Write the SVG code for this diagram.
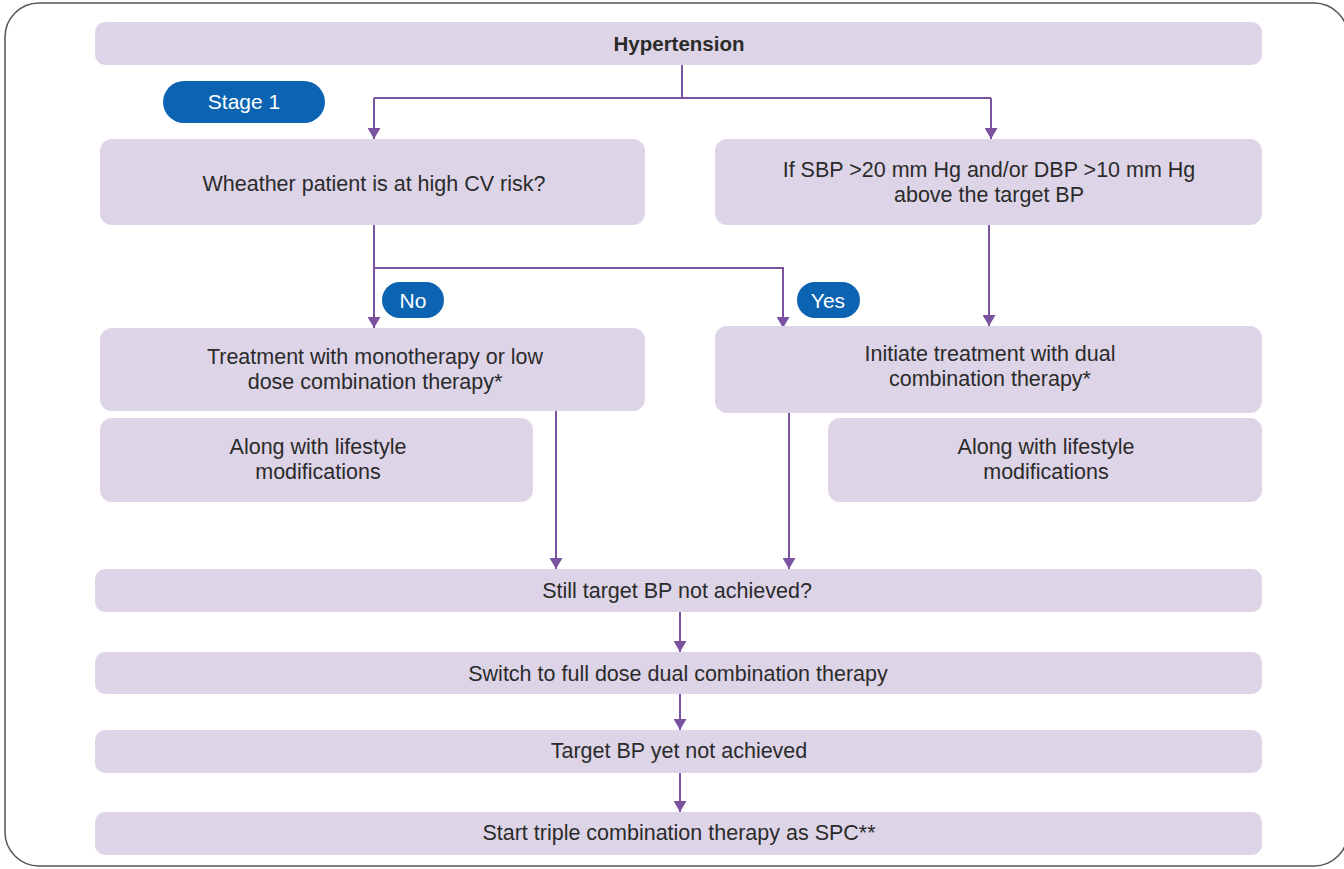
<svg xmlns="http://www.w3.org/2000/svg" width="1344" height="869" viewBox="0 0 1344 869">
<style>
.box{fill:#ddd5e7}
.pill{fill:#0b63b1}
.t{font-family:"Liberation Sans",Arial,sans-serif;font-size:21.5px;fill:#2b2b2b;text-anchor:middle}
.pt{font-family:"Liberation Sans",Arial,sans-serif;font-size:21px;fill:#fff;text-anchor:middle}
.c{fill:none;stroke:#7a52a0;stroke-width:2}
</style>
<defs>
<marker id="ah" viewBox="0 0 11 13" refX="11" refY="6.5" markerWidth="11" markerHeight="13" markerUnits="userSpaceOnUse" orient="auto">
<path d="M0,0 L11,6.5 L0,13 Z" fill="#7a52a0"/>
</marker>
</defs>
<rect width="1344" height="869" fill="#fff"/>
<rect x="5" y="3" width="1343" height="863" rx="34" fill="none" stroke="#555" stroke-width="1.5"/>

<g id="connectors">
<path class="c" d="M682,65 V98"/>
<path class="c" d="M374,98 H991"/>
<path class="c" d="M374,98 V139" marker-end="url(#ah)"/>
<path class="c" d="M991,98 V139" marker-end="url(#ah)"/>
<path class="c" d="M374,225 V328" marker-end="url(#ah)"/>
<path class="c" d="M374,268 H783 V328" marker-end="url(#ah)"/>
<path class="c" d="M989,225 V326" marker-end="url(#ah)"/>
<path class="c" d="M556,411 V569" marker-end="url(#ah)"/>
<path class="c" d="M789,413 V569" marker-end="url(#ah)"/>
<path class="c" d="M680,612 V652" marker-end="url(#ah)"/>
<path class="c" d="M680,694 V730" marker-end="url(#ah)"/>
<path class="c" d="M680,773 V812" marker-end="url(#ah)"/>
</g>

<g id="hypertension">
<rect class="box" x="95" y="22" width="1167" height="43" rx="10"/>
<text class="t" x="679" y="51" font-weight="bold" style="font-size:20.5px">Hypertension</text>
</g>
<g id="stage1">
<rect class="pill" x="163" y="81" width="162" height="42" rx="21"/>
<text class="pt" x="244" y="109">Stage 1</text>
</g>
<g id="highcv">
<rect class="box" x="100" y="139" width="545" height="86" rx="12"/>
<text class="t" x="374" y="191">Wheather patient is at high CV risk?</text>
</g>
<g id="sbp">
<rect class="box" x="715" y="139" width="547" height="86" rx="12"/>
<text class="t" x="989" y="177">If SBP &gt;20 mm Hg and/or DBP &gt;10 mm Hg</text>
<text class="t" x="989" y="202">above the target BP</text>
</g>
<g id="no">
<rect class="pill" x="382" y="282" width="62" height="36" rx="18"/>
<text class="pt" x="413" y="308">No</text>
</g>
<g id="yes">
<rect class="pill" x="797" y="282" width="63" height="36" rx="18"/>
<text class="pt" x="828" y="308">Yes</text>
</g>
<g id="mono">
<rect class="box" x="100" y="328" width="545" height="83" rx="12"/>
<text class="t" x="375" y="364">Treatment with monotherapy or low</text>
<text class="t" x="375" y="389">dose combination therapy*</text>
</g>
<g id="lifestyle-left">
<rect class="box" x="100" y="418" width="433" height="84" rx="12"/>
<text class="t" x="318" y="454">Along with lifestyle</text>
<text class="t" x="318" y="479">modifications</text>
</g>
<g id="dual">
<rect class="box" x="715" y="326" width="547" height="87" rx="12"/>
<text class="t" x="990" y="361">Initiate treatment with dual</text>
<text class="t" x="990" y="386">combination therapy*</text>
</g>
<g id="lifestyle-right">
<rect class="box" x="828" y="418" width="434" height="84" rx="12"/>
<text class="t" x="1046" y="454">Along with lifestyle</text>
<text class="t" x="1046" y="479">modifications</text>
</g>
<g id="still">
<rect class="box" x="95" y="569" width="1167" height="43" rx="10"/>
<text class="t" x="677" y="598">Still target BP not achieved?</text>
</g>
<g id="switch">
<rect class="box" x="95" y="652" width="1167" height="42" rx="10"/>
<text class="t" x="678" y="681">Switch to full dose dual combination therapy</text>
</g>
<g id="yetnot">
<rect class="box" x="95" y="730" width="1167" height="43" rx="10"/>
<text class="t" x="679" y="758">Target BP yet not achieved</text>
</g>
<g id="triple">
<rect class="box" x="95" y="812" width="1167" height="43" rx="10"/>
<text class="t" x="679" y="840">Start triple combination therapy as SPC**</text>
</g>
</svg>
